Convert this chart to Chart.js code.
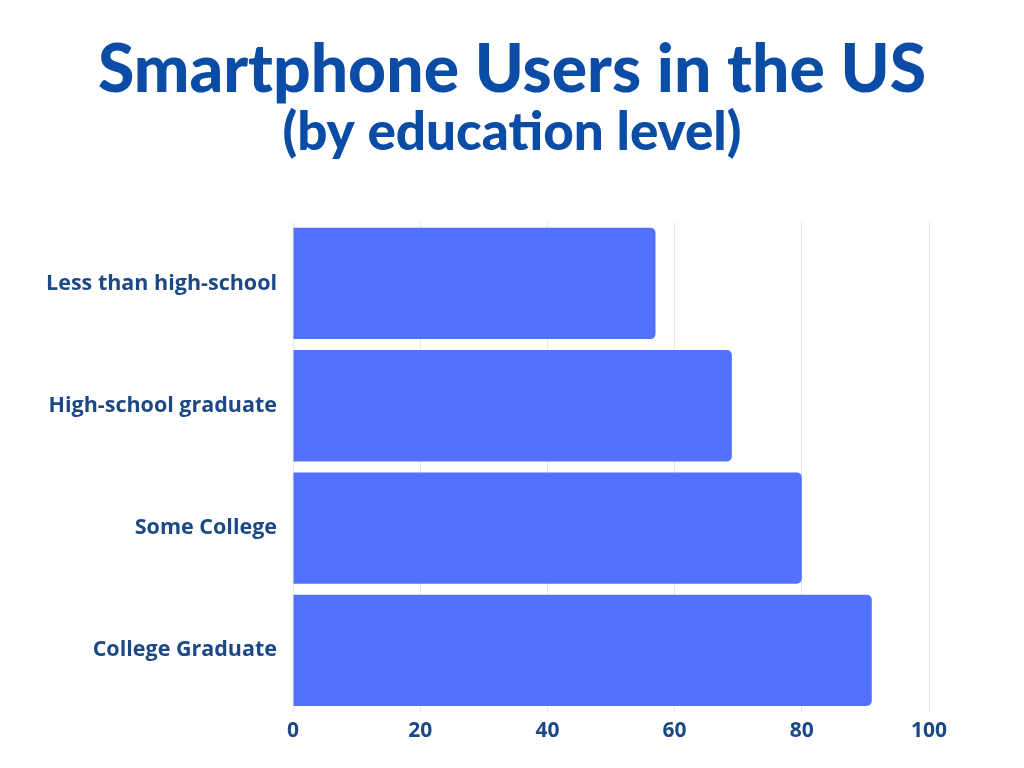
<!DOCTYPE html>
<html>
<head>
<meta charset="utf-8">
<script src="https://cdn.jsdelivr.net/npm/chart.js@4.4.0/dist/chart.umd.min.js"></script>
<style>
  html, body { margin:0; padding:0; background:#fff; }
  #wrap { width:1024px; height:768px; position:relative; }
</style>
</head>
<body>
<div id="wrap"><canvas id="eduChart" width="1024" height="768"></canvas></div>
<script>
// data
const categories = ['Less than high-school', 'High-school graduate', 'Some College', 'College Graduate'];
const userShare = [57, 69, 80, 91];
const xTicks = [0, 20, 40, 60, 80, 100];

const titleText = 'Smartphone Users in the US';
const subtitleText = '(by education level)';

const navy = '#0b4da6';
const labelBlue = '#1c4885';

const ctx = document.getElementById('eduChart').getContext('2d');
new Chart(ctx, {
  type: 'bar',
  data: {
    labels: categories,
    datasets: [{
      data: userShare,
      backgroundColor: '#5271ff',
      borderRadius: 5,
      barPercentage: 0.91,
      categoryPercentage: 1.0
    }]
  },
  options: {
    indexAxis: 'y',
    responsive: false,
    animation: false,
    layout: { padding: { left: 0, right: 0, top: 38, bottom: 0 } },
    plugins: {
      legend: { display: false },
      tooltip: { enabled: false },
      title: {
        display: true,
        text: titleText,
        color: navy,
        font: { family: 'Lato', weight: '900', size: 66, lineHeight: 1.0 },
        padding: { top: 0, bottom: 0 }
      },
      subtitle: {
        display: true,
        text: subtitleText,
        color: navy,
        font: { family: 'Lato', weight: '900', size: 53, lineHeight: 1.1 },
        padding: { top: 0, bottom: 60 }
      }
    },
    scales: {
      x: {
        min: 0,
        max: 100,
        afterBuildTicks: axis => { axis.ticks = xTicks.map(v => ({ value: v })); },
        afterFit: axis => { axis.height = 56.5; },
        grid: { color: '#e2e8f0', lineWidth: 1, drawTicks: false },
        border: { display: false },
        ticks: {
          color: labelBlue,
          padding: 7,
          font: { family: '"Open Sans"', weight: 'bold', size: 21 }
        }
      },
      y: {
        afterFit: axis => { axis.width = 293; },
        grid: { display: false, drawTicks: false },
        border: { display: false },
        ticks: {
          color: labelBlue,
          padding: 16,
          font: { family: '"Open Sans"', weight: 'bold', size: 21.5 }
        }
      },
      // empty right-hand spacer so the plot ends at 100 while the title stays centred on the page
      spacer: {
        type: 'linear',
        position: 'right',
        afterFit: axis => { axis.width = 95; },
        grid: { display: false, drawTicks: false },
        border: { display: false },
        ticks: { display: false }
      }
    }
  }
});
</script>
</body>
</html>
